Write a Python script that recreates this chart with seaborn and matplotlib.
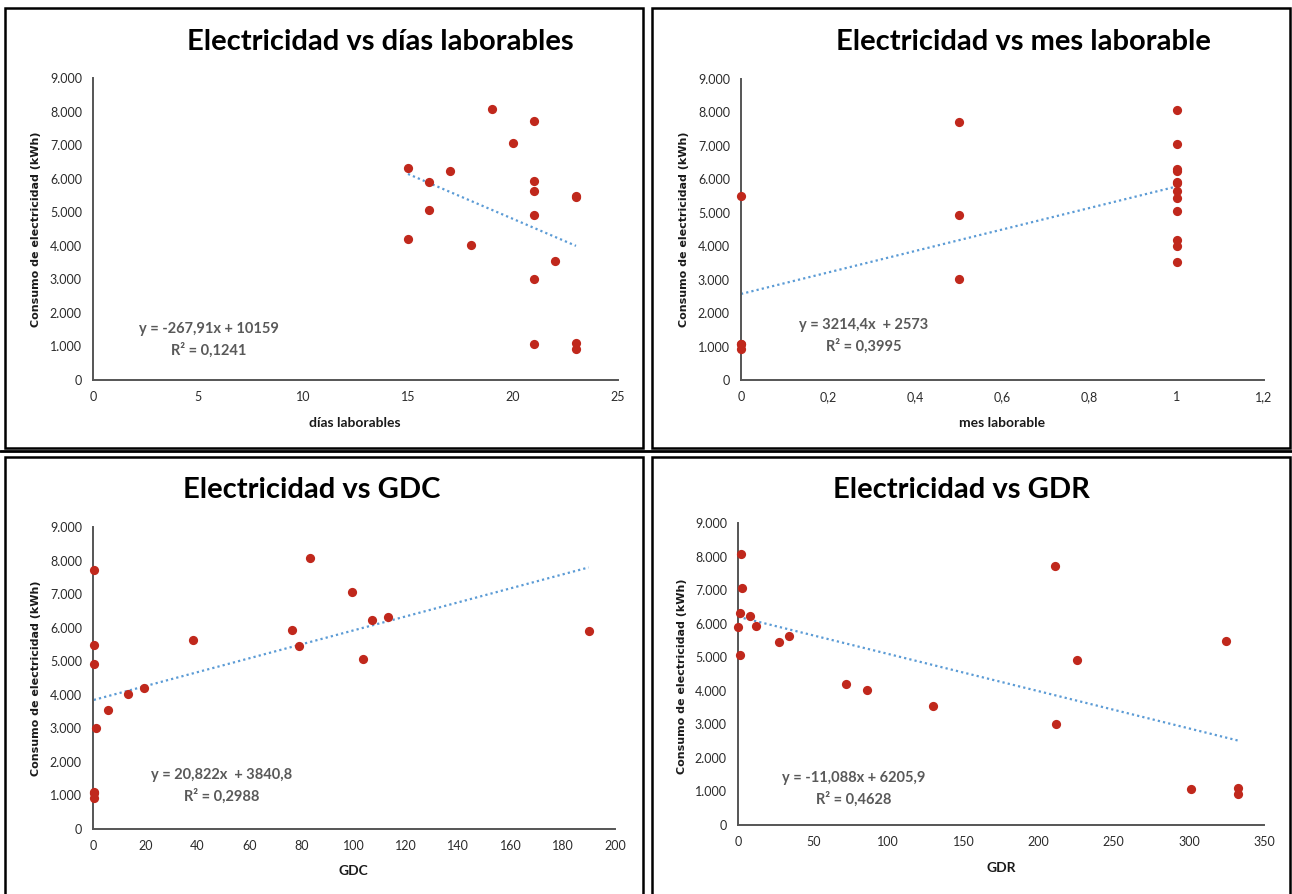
import numpy as np
import pandas as pd
import matplotlib
matplotlib.use("Agg")
import matplotlib.pyplot as plt
import seaborn as sns
from matplotlib.patches import Rectangle
from matplotlib.lines import Line2D
from matplotlib.ticker import FuncFormatter, MultipleLocator

# ---------------- data ----------------
consumo = [8070, 7060, 6310, 6240, 5920, 5900, 5640, 5440, 5060, 4200, 4020, 3540,
           7720, 4920, 3020, 5490, 1080, 1090, 930]
dias = [19, 20, 15, 17, 21, 16, 21, 23, 16, 15, 18, 22, 21, 21, 21, 23, 21, 23, 23]
mes = [1, 1, 1, 1, 1, 1, 1, 1, 1, 1, 1, 1, 0.5, 0.5, 0.5, 0, 0, 0, 0]
gdc = [83.2, 99.4, 112.9, 106.9, 76.1, 189.9, 38.2, 79.1, 103.3, 19.4, 13.3, 5.7,
       0.3, 0.3, 1.3, 0.3, 0.3, 0.3, 0.3]
gdr = [1.9, 2.7, 1.1, 8.2, 11.8, 0.3, 33.7, 27.4, 1.1, 71.6, 85.6, 129.7,
       210.9, 225.4, 211.5, 324.5, 301.4, 333.0, 333.0]

titles = ["Electricidad vs días laborables", "Electricidad vs mes laborable",
          "Electricidad vs GDC", "Electricidad vs GDR"]
xlabels = ["días laborables", "mes laborable", "GDC", "GDR"]
ylabel = "Consumo de electricidad (kWh)"
slopes = [-267.91, 3214.4, 20.822, -11.088]
intercepts = [10159, 2573, 3840.8, 6205.9]
eq_texts = ["y = -267,91x + 10159", "y = 3214,4x  + 2573",
            "y = 20,822x  + 3840,8", "y = -11,088x + 6205,9"]
r2_texts = ["R² = 0,1241", "R² = 0,3995", "R² = 0,2988", "R² = 0,4628"]
xmax = [25, 1.2, 200, 350]
xstep = [5, 0.2, 20, 50]

df = pd.DataFrame({"consumo": consumo, "dias": dias, "mes": mes, "gdc": gdc, "gdr": gdr})
xcols = ["dias", "mes", "gdc", "gdr"]

# ---------------- style ----------------
sns.set_style("white")
plt.rcParams['font.family'] = ['Lato', 'DejaVu Sans']

W, H = 1292, 894
fig = plt.figure(figsize=(W / 100, H / 100), dpi=100)

def fx(x):
    return x / W

def fy(y):
    return 1 - y / H

# axes boxes in pixels: (x0, x1, ytop, ybottom)
boxes = [(93, 618, 78, 380), (741, 1264, 79, 380),
         (93, 615, 527, 829), (738, 1264, 523, 825)]
title_pos = [(380, 42), (1023, 42), (312, 490), (961, 490)]
xlabel_pos = [(355, 423), (1002, 423), (353, 871), (1001, 868)]
ylabel_pos = [(36, 229), (684, 229), (36, 678), (682, 676)]
eq_pos = [(209, 329), (864, 325), (222, 775), (854, 778)]
r2_pos = [(209, 350), (864, 346), (222, 796), (854, 799)]
panels = [(5, 643, 8, 448), (652, 1290, 8, 448), (5, 643, 457, 900), (652, 1290, 457, 900)]

marker_color = "#C0281C"
trend_color = "#5B9BD5"
tick_color = "#2b2b2b"

def fmt_y(v, pos):
    return f"{int(round(v)):,}".replace(",", ".")

def fmt_x(v, pos):
    if abs(v - round(v)) < 1e-9:
        return f"{int(round(v))}"
    return f"{v:.1f}".replace(".", ",")

for i in range(4):
    # panel frames
    x0p, x1p, y0p, y1p = panels[i]
    fig.add_artist(Rectangle((fx(x0p), fy(y1p)), fx(x1p - x0p), (y1p - y0p) / H,
                             transform=fig.transFigure, fill=False,
                             edgecolor="black", lw=1.8, zorder=0))

    x0, x1, yt, yb = boxes[i]
    ax = fig.add_axes([fx(x0), fy(yb), fx(x1 - x0), (yb - yt) / H])
    col = xcols[i]
    sns.scatterplot(data=df, x=col, y="consumo", ax=ax, color=marker_color,
                    s=44, edgecolor=marker_color, linewidth=0, zorder=3, clip_on=False)
    xs = np.array([df[col].min(), df[col].max()])
    ax.plot(xs, slopes[i] * xs + intercepts[i], color=trend_color, lw=1.6,
            linestyle=(0, (1, 1.4)), zorder=2)

    ax.set_xlim(0, xmax[i])
    ax.set_ylim(0, 9000)
    ax.xaxis.set_major_locator(MultipleLocator(xstep[i]))
    ax.yaxis.set_major_locator(MultipleLocator(1000))
    ax.xaxis.set_major_formatter(FuncFormatter(fmt_x))
    ax.yaxis.set_major_formatter(FuncFormatter(fmt_y))
    ax.tick_params(axis="both", length=0, labelsize=9, colors=tick_color, pad=8)
    for s in ["top", "right"]:
        ax.spines[s].set_visible(False)
    for s in ["left", "bottom"]:
        ax.spines[s].set_color("#555555")
        ax.spines[s].set_linewidth(1.4)
    ax.set_xlabel("")
    ax.set_ylabel("")
    ax.set_facecolor("none")

    fig.text(fx(title_pos[i][0]), fy(title_pos[i][1]), titles[i], ha="center", va="center",
             fontsize=21, fontweight="bold", color="black")
    fig.text(fx(xlabel_pos[i][0]), fy(xlabel_pos[i][1]), xlabels[i], ha="center", va="center",
             fontsize=10, fontweight="bold", color="#1a1a1a")
    fig.text(fx(ylabel_pos[i][0]), fy(ylabel_pos[i][1]), ylabel, ha="center", va="center",
             rotation=90, fontsize=8, fontweight="bold", color="#1a1a1a",
             family="DejaVu Sans")
    fig.text(fx(eq_pos[i][0]), fy(eq_pos[i][1]), eq_texts[i], ha="center", va="center",
             fontsize=10.5, fontweight="bold", color="#595959")
    fig.text(fx(r2_pos[i][0]), fy(r2_pos[i][1]), r2_texts[i], ha="center", va="center",
             fontsize=10.5, fontweight="bold", color="#595959")

# separator line between rows
fig.add_artist(Line2D([0, 1], [fy(451), fy(451)], transform=fig.transFigure,
                      color="black", lw=2.0))

fig.savefig("out.png", dpi=100, facecolor="white")
